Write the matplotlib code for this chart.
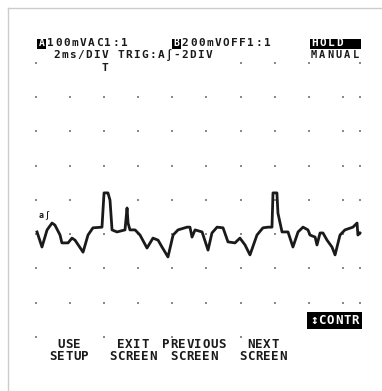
import matplotlib
matplotlib.use('Agg')
import matplotlib.pyplot as plt
from matplotlib.lines import Line2D
from matplotlib.patches import Rectangle

W, H = 382, 391

# scope graticule (time in ms, voltage in mV)
grid_t = [0, 2, 4, 6, 8, 10, 12, 14, 16, 18, 19]
grid_v = [-300, -200, -100, 0, 100, 200, 300, 400, 500]
# dots that the screen text covers up
hidden_top = [2, 4, 6, 8, 10, 18]
hidden_bottom = [2, 6, 10, 14, 16, 18, 19]

# captured trace, channel A
trace_t = [0.06, 0.35, 0.65, 0.94, 1.11, 1.41, 1.52, 1.88, 2.11, 2.29,
           2.76, 3.05, 3.34, 3.87, 3.99, 4.22, 4.34, 4.46, 4.75, 5.22,
           5.34, 5.40, 5.51, 5.81, 6.10, 6.51, 6.86, 7.16, 7.39, 7.74,
           8.04, 8.33, 8.86, 9.03, 9.15, 9.33, 9.74, 10.09, 10.32, 10.62,
           10.97, 11.26, 11.67, 11.96, 12.26, 12.55, 12.96, 13.31, 13.61, 13.84,
           13.90, 14.13, 14.19, 14.43, 14.78, 15.07, 15.37, 15.66, 15.95, 16.07,
           16.37, 16.48, 16.66, 16.83, 17.07, 17.36, 17.54, 17.83, 18.12, 18.59,
           18.83, 18.88, 19.00]
trace_v = [6, -38, 12, 32, 26, -3, -26, -26, -12, -18,
           -53, -3, 18, 20, 120, 120, 99, 12, 6, 12,
           76, 32, 12, 12, -3, -41, -12, -18, -38, -67,
           -3, 12, 20, 20, -9, 12, 6, -47, 3, 20,
           18, -23, -26, -12, -32, -61, -3, 18, 20, 20,
           120, 120, 61, 6, 6, -38, 6, 20, 12, -3,
           -9, -32, 3, 3, -18, -38, -61, -3, 12, 20,
           32, -3, 3]

# screen text
chan_a = '100mVAC1:1'
chan_b = '200mVOFF1:1'
timebase = '2ms/DIV TRIG:A\u222b-2DIV'
menu_top = ['USE', 'EXIT', 'PREVIOUS', 'NEXT']
menu_bottom = ['SETUP', 'SCREEN', 'SCREEN', 'SCREEN']
menu_x = [69, 133, 194, 263]

ink = '#1a1a1a'
font = ['DejaVu Sans Mono', 'DejaVu Sans']


def fx(x):
    return x / W


def fy(y):
    return 1 - y / H


def lcd(x, y, s, size=8, pitch=8.2, color=ink, center=False):
    # fixed-pitch screen font, one character per cell
    if center:
        x = x - pitch * len(s) / 2
    for i, ch in enumerate(s):
        fig.text(fx(x + pitch * (i + 0.5)), fy(y), ch, family=font,
                 fontsize=size, fontweight='bold', color=color,
                 ha='center', va='center')


def block(x0, y0, x1, y1):
    fig.add_artist(Rectangle((fx(x0), fy(y1)), fx(x1 - x0), (y1 - y0) / H,
                             transform=fig.transFigure, fc='black', ec='none'))


fig = plt.figure(figsize=(W / 100, H / 100), dpi=100)
ax = fig.add_axes([0, 0, 1, 1])
# pixel 36 -> 0 ms, 34.1 px per division; pixel row 234 -> 0 mV, 34.25 px per division
ax.set_xlim(-36 / 34.1 * 2, (W - 36) / 34.1 * 2)
ax.set_ylim(-(H - 234) / 34.25 * 100, 234 / 34.25 * 100)
ax.axis('off')

# graticule dots
for v in grid_v:
    for t in grid_t:
        if v == 500 and t in hidden_top:
            continue
        if v == -300 and t in hidden_bottom:
            continue
        ax.scatter(t, v, s=3, marker='s', color='#8a8a8a', linewidths=0)

# the trace
ax.plot(trace_t, trace_v, color=ink, lw=2.0, solid_joinstyle='round')

# screen frame (only left and top edges show)
fig.add_artist(Line2D([fx(8), fx(8)], [fy(8), 0], color='#cccccc', lw=1))
fig.add_artist(Line2D([fx(8), 1], [fy(8), fy(8)], color='#cccccc', lw=1))

# header
block(37, 38.5, 46, 48.5)
lcd(37.5, 43.5, 'A', size=7, pitch=8, color='white')
lcd(46, 43.5, chan_a)
block(172, 38.5, 181, 48.5)
lcd(172.5, 43.5, 'B', size=7, pitch=8, color='white')
lcd(181, 43.5, chan_b)
lcd(53, 55, timebase, pitch=8)
lcd(101, 68, 'T')
block(310, 38.5, 361, 48.5)
lcd(311, 43.5, 'HOLD', color='white')
lcd(310, 55, 'MANUAL', size=7.5, pitch=8.3)

# trigger marker
lcd(39, 215, 'a\u222b', size=6, pitch=5)

# softkey menu
for x, top, bot in zip(menu_x, menu_top, menu_bottom):
    lcd(x, 344, top, size=9, pitch=8, center=True)
    lcd(x, 356, bot, size=9, pitch=8, center=True)
block(307, 312, 362, 329)
lcd(334.5, 320.5, '\u2195CONTR', size=9, color='white', center=True)

fig.savefig('out.png', dpi=100)
